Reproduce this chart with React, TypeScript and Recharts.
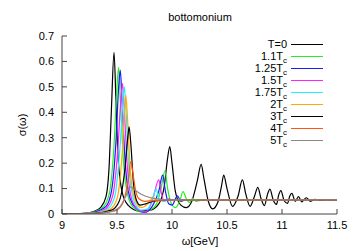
import React from 'react';
import { LineChart, Line, XAxis, YAxis } from 'recharts';

const xTicks = [9, 9.5, 10, 10.5, 11, 11.5];
const yTicks = [0, 0.1, 0.2, 0.3, 0.4, 0.5, 0.6, 0.7];

const tZero: [number, number][] = [
  [9.0, 0.0], [9.2, 0.003], [9.3, 0.012], [9.35, 0.025], [9.4, 0.068], [9.43, 0.2], [9.45, 0.42],
  [9.473, 0.636], [9.49, 0.45], [9.51, 0.22], [9.55, 0.08], [9.6, 0.035], [9.7, 0.012], [9.8, 0.015],
  [9.88, 0.04], [9.93, 0.11], [9.96, 0.22], [9.98, 0.265], [10.0, 0.2], [10.03, 0.09], [10.08, 0.035],
  [10.13, 0.025], [10.18, 0.05], [10.23, 0.13], [10.265, 0.195], [10.29, 0.14], [10.33, 0.05],
  [10.37, 0.02], [10.42, 0.05], [10.45, 0.11], [10.47, 0.153], [10.5, 0.1], [10.55, 0.03],
  [10.6, 0.07], [10.64, 0.134], [10.67, 0.08], [10.71, 0.03], [10.75, 0.07], [10.78, 0.105],
  [10.81, 0.06], [10.84, 0.033], [10.87, 0.08], [10.89, 0.098], [10.92, 0.055], [10.95, 0.038],
  [10.97, 0.075], [10.99, 0.092], [11.02, 0.052], [11.05, 0.042], [11.07, 0.07], [11.09, 0.081],
  [11.12, 0.05], [11.15, 0.068], [11.18, 0.048], [11.22, 0.064], [11.26, 0.05], [11.3, 0.058],
  [11.35, 0.054], [11.4, 0.056], [11.5, 0.055],
];
const t110: [number, number][] = [
  [9.0, 0], [9.2, 0.002], [9.3, 0.01], [9.38, 0.03], [9.43, 0.08], [9.47, 0.25], [9.5, 0.5],
  [9.515, 0.577], [9.53, 0.45], [9.56, 0.2], [9.6, 0.07], [9.65, 0.025], [9.72, 0.008], [9.8, 0.015],
  [9.86, 0.04], [9.9, 0.1], [9.936, 0.17], [9.96, 0.1], [9.99, 0.045], [10.03, 0.025], [10.07, 0.05],
  [10.1, 0.088], [10.13, 0.06], [10.16, 0.045], [10.185, 0.062], [10.22, 0.05], [10.3, 0.056], [11.5, 0.056],
];
const t125: [number, number][] = [
  [9.0, 0], [9.2, 0.002], [9.3, 0.008], [9.4, 0.03], [9.45, 0.09], [9.49, 0.28], [9.515, 0.5],
  [9.53, 0.566], [9.545, 0.45], [9.575, 0.2], [9.62, 0.06], [9.68, 0.02], [9.75, 0.006], [9.82, 0.03],
  [9.88, 0.09], [9.915, 0.153], [9.94, 0.09], [9.97, 0.04], [10.0, 0.035], [10.05, 0.071], [10.08, 0.05],
  [10.12, 0.055], [11.5, 0.056],
];
const t150: [number, number][] = [
  [9.0, 0], [9.3, 0.006], [9.4, 0.022], [9.46, 0.07], [9.51, 0.27], [9.535, 0.45], [9.55, 0.514],
  [9.565, 0.42], [9.595, 0.18], [9.64, 0.05], [9.7, 0.015], [9.76, 0.008], [9.82, 0.05], [9.88, 0.134],
  [9.9, 0.09], [9.93, 0.05], [9.97, 0.06], [10.0, 0.055], [11.5, 0.056],
];
const t175: [number, number][] = [
  [9.0, 0], [9.3, 0.005], [9.42, 0.022], [9.48, 0.07], [9.53, 0.28], [9.555, 0.45], [9.567, 0.5],
  [9.58, 0.42], [9.61, 0.17], [9.66, 0.045], [9.72, 0.015], [9.78, 0.02], [9.83, 0.07], [9.855, 0.1],
  [9.88, 0.06], [9.92, 0.05], [10.0, 0.056], [11.5, 0.056],
];
const t200: [number, number][] = [
  [9.0, 0], [9.3, 0.004], [9.44, 0.02], [9.5, 0.06], [9.55, 0.26], [9.57, 0.42], [9.58, 0.468],
  [9.595, 0.38], [9.625, 0.15], [9.67, 0.05], [9.72, 0.025], [9.78, 0.04], [9.83, 0.065], [9.86, 0.05],
  [9.9, 0.055], [11.5, 0.056],
];
const t300: [number, number][] = [
  [9.0, 0], [9.3, 0.003], [9.45, 0.015], [9.52, 0.05], [9.57, 0.17], [9.6, 0.31], [9.61, 0.343],
  [9.625, 0.28], [9.65, 0.12], [9.68, 0.05], [9.71, 0.035], [9.76, 0.04], [9.85, 0.052], [10.0, 0.056],
  [11.5, 0.056],
];
const t400: [number, number][] = [
  [9.0, 0], [9.3, 0.002], [9.48, 0.012], [9.55, 0.04], [9.6, 0.13], [9.625, 0.206], [9.645, 0.16],
  [9.67, 0.09], [9.7, 0.06], [9.75, 0.05], [9.85, 0.053], [10.0, 0.056], [11.5, 0.056],
];
const t500: [number, number][] = [
  [9.0, 0], [9.3, 0.002], [9.45, 0.01], [9.53, 0.03], [9.58, 0.07], [9.62, 0.107], [9.66, 0.095],
  [9.72, 0.078], [9.8, 0.065], [9.9, 0.058], [10.0, 0.056], [11.5, 0.056],
];

const seriesNames = ['T=0', '1.1T', '1.25T', '1.5T', '1.75T', '2T', '3T', '4T', '5T'];
const seriesSub = ['', 'c', 'c', 'c', 'c', 'c', 'c', 'c', 'c'];
const seriesData = [tZero, t110, t125, t150, t175, t200, t300, t400, t500];
const seriesColors = ['#000000', '#22ee22', '#1a1aff', '#ff22ff', '#22eeff', '#ffaa00', '#000000', '#ff5511', '#888888'];

const FONT = '"Liberation Sans", Arial, sans-serif';

export default function App() {
  const series = seriesData.map((arr) => arr.map(([w, s]) => ({ w, s })));
  return (
    <div style={{ position: 'absolute', left: 0, top: 0, width: 358, height: 251, background: '#fff', fontFamily: FONT }}>
      <LineChart width={358} height={251} margin={{ top: 36, right: 21, bottom: 7, left: 32 }}>
        <XAxis
          xAxisId="b" dataKey="w" type="number" domain={[9, 11.5]} ticks={xTicks}
          allowDataOverflow height={30} tickSize={-5} tickMargin={12}
          stroke="#444" tick={{ fill: '#000', fontSize: 11, fontFamily: FONT }}
          tickFormatter={(v: number) => String(v)}
        />
        <XAxis
          xAxisId="t" orientation="top" dataKey="w" type="number" domain={[9, 11.5]} ticks={xTicks}
          allowDataOverflow height={0} tickSize={-5} stroke="#444" tickFormatter={() => ''}
        />
        <YAxis
          yAxisId="l" type="number" domain={[0, 0.7]} ticks={yTicks} width={30}
          allowDataOverflow tickSize={-5} tickMargin={13} stroke="#444"
          tick={{ fill: '#000', fontSize: 11, fontFamily: FONT }}
          tickFormatter={(v: number) => String(v)}
        />
        <YAxis
          yAxisId="r" orientation="right" type="number" domain={[0, 0.7]} ticks={yTicks} width={0}
          allowDataOverflow tickSize={-5} stroke="#444" tickFormatter={() => ''}
        />
        {series.map((d, i) => (
          <Line
            key={i} xAxisId="b" yAxisId="l" data={d} dataKey="s" type="monotone"
            stroke={seriesColors[i]} strokeWidth={1.2} dot={false} isAnimationActive={false}
          />
        ))}
      </LineChart>
      <div style={{ position: 'absolute', left: 0, width: 358, top: 11, textAlign: 'center', fontSize: 11, paddingLeft: 42, boxSizing: 'border-box' }}>
        bottomonium
      </div>
      <div style={{ position: 'absolute', left: 0, width: 358, top: 235, textAlign: 'center', fontSize: 11, paddingLeft: 42, boxSizing: 'border-box' }}>
        ω[GeV]
      </div>
      <div style={{ position: 'absolute', left: 22, top: 125, fontSize: 11, transform: 'translate(-50%, -50%) rotate(-90deg)', whiteSpace: 'nowrap' }}>
        σ(ω)
      </div>
      <div style={{ position: 'absolute', left: 200, top: 38 }}>
        {seriesNames.map((n, i) => (
          <div key={i} style={{ display: 'flex', alignItems: 'center', height: 12 }}>
            <div style={{ width: 87, textAlign: 'right', fontSize: 11, lineHeight: '12px', whiteSpace: 'nowrap' }}>
              {n}
              {seriesSub[i] ? <sub style={{ fontSize: 8, verticalAlign: '-3px', lineHeight: 0 }}>{seriesSub[i]}</sub> : null}
            </div>
            <div style={{ marginLeft: 4, width: 32, height: 0, borderTop: `1.5px solid ${seriesColors[i]}` }} />
          </div>
        ))}
      </div>
    </div>
  );
}
